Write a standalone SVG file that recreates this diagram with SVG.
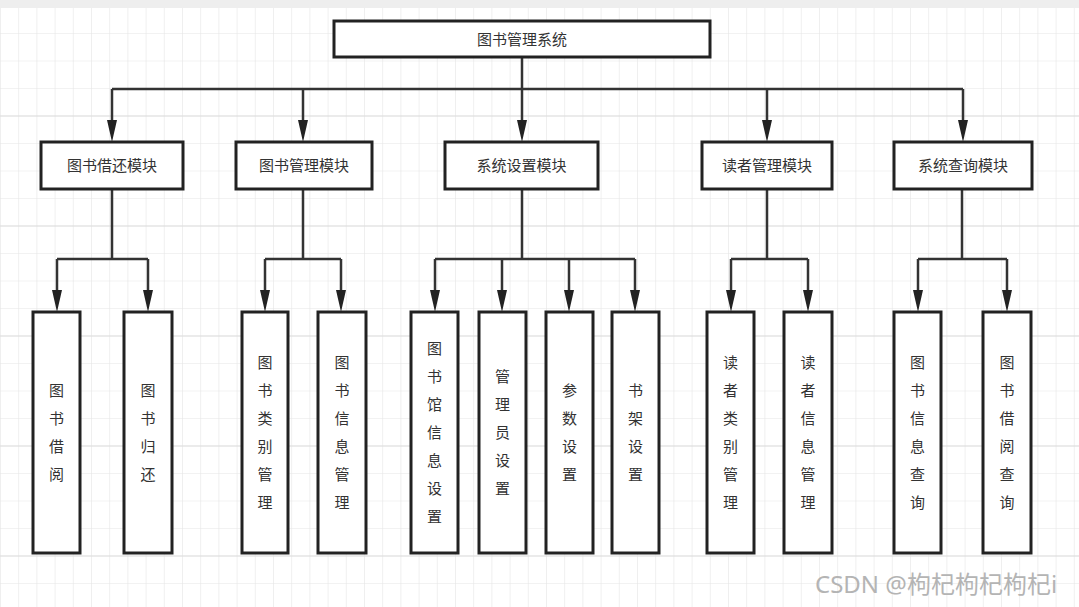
<svg xmlns="http://www.w3.org/2000/svg" width="1079" height="607" viewBox="0 0 1079 607">
<style>
.box{fill:#fff;stroke:#222;stroke-width:3}
.lbl{font-family:"Noto Sans","Noto Sans CJK SC",sans-serif;font-size:15px;fill:#333;text-anchor:middle}
.conn{fill:none;stroke:#333;stroke-width:2.5}
.wm{font-family:"Noto Sans","Noto Sans CJK SC",sans-serif;font-size:24px;fill:#b4b4b4}
</style>
<defs>
<pattern id="gminor" patternUnits="userSpaceOnUse" x="0" y="5.5" width="18.2" height="27.5">
<path d="M0,0 H18.2 M0,0 V27.5" fill="none" stroke="#e6e6e6" stroke-width="1.2"/>
</pattern>
<pattern id="gmajor" patternUnits="userSpaceOnUse" x="0" y="5.5" width="1079" height="110">
<path d="M0,0 H1079" fill="none" stroke="#dcdcdc" stroke-width="2"/>
</pattern>
<marker id="arr" markerUnits="userSpaceOnUse" viewBox="0 0 22 10" refX="10" refY="5" markerWidth="22" markerHeight="10" orient="auto">
<path d="M0,0 L22,5 L0,10 z" fill="#222"/>
</marker>
</defs>
<rect width="1079" height="607" fill="#fff"/>
<rect width="1079" height="607" fill="url(#gminor)"/>
<rect width="1079" height="607" fill="url(#gmajor)"/>
<rect width="1079" height="8" fill="#eeeeee"/>

<g id="connectors">
<path class="conn" d="M112,89 H963"/>
<path class="conn" d="M522,57 V130" marker-end="url(#arr)"/>
<path class="conn" d="M112,89 V130" marker-end="url(#arr)"/>
<path class="conn" d="M303,89 V130" marker-end="url(#arr)"/>
<path class="conn" d="M767,89 V130" marker-end="url(#arr)"/>
<path class="conn" d="M963,89 V130" marker-end="url(#arr)"/>

<path class="conn" d="M112,189 V259 M57,259 H148"/>
<path class="conn" d="M57,259 V300" marker-end="url(#arr)"/>
<path class="conn" d="M148,259 V300" marker-end="url(#arr)"/>

<path class="conn" d="M303,189 V259 M265,259 H341"/>
<path class="conn" d="M265,259 V300" marker-end="url(#arr)"/>
<path class="conn" d="M341,259 V300" marker-end="url(#arr)"/>

<path class="conn" d="M522,189 V259 M435,259 H635"/>
<path class="conn" d="M435,259 V300" marker-end="url(#arr)"/>
<path class="conn" d="M502,259 V300" marker-end="url(#arr)"/>
<path class="conn" d="M569,259 V300" marker-end="url(#arr)"/>
<path class="conn" d="M635,259 V300" marker-end="url(#arr)"/>

<path class="conn" d="M767,189 V259 M731,259 H808"/>
<path class="conn" d="M731,259 V300" marker-end="url(#arr)"/>
<path class="conn" d="M808,259 V300" marker-end="url(#arr)"/>

<path class="conn" d="M962,189 V259 M918,259 H1007"/>
<path class="conn" d="M918,259 V300" marker-end="url(#arr)"/>
<path class="conn" d="M1007,259 V300" marker-end="url(#arr)"/>
</g>

<g id="root"><rect class="box" x="334" y="21" width="376" height="36"/><text class="lbl" x="522" y="44.5">图书管理系统</text></g>

<g id="m1"><rect class="box" x="41" y="142" width="142" height="47"/><text class="lbl" x="112" y="171">图书借还模块</text></g>
<g id="m2"><rect class="box" x="236" y="142" width="136" height="47"/><text class="lbl" x="304" y="171">图书管理模块</text></g>
<g id="m3"><rect class="box" x="445" y="142" width="153" height="47"/><text class="lbl" x="521.5" y="171">系统设置模块</text></g>
<g id="m4"><rect class="box" x="702" y="142" width="130" height="47"/><text class="lbl" x="767" y="171">读者管理模块</text></g>
<g id="m5"><rect class="box" x="894" y="142" width="138" height="47"/><text class="lbl" x="963" y="171">系统查询模块</text></g>

<g id="l1"><rect class="box" x="33" y="312" width="47" height="241"/><text class="lbl"><tspan x="56.5" y="395.5">图</tspan><tspan x="56.5" y="423.5">书</tspan><tspan x="56.5" y="451.5">借</tspan><tspan x="56.5" y="479.5">阅</tspan></text></g>
<g id="l2"><rect class="box" x="124" y="312" width="48" height="241"/><text class="lbl"><tspan x="148" y="395.5">图</tspan><tspan x="148" y="423.5">书</tspan><tspan x="148" y="451.5">归</tspan><tspan x="148" y="479.5">还</tspan></text></g>
<g id="l3"><rect class="box" x="242" y="312" width="46" height="241"/><text class="lbl"><tspan x="265" y="367.5">图</tspan><tspan x="265" y="395.5">书</tspan><tspan x="265" y="423.5">类</tspan><tspan x="265" y="451.5">别</tspan><tspan x="265" y="479.5">管</tspan><tspan x="265" y="507.5">理</tspan></text></g>
<g id="l4"><rect class="box" x="318" y="312" width="48" height="241"/><text class="lbl"><tspan x="342" y="367.5">图</tspan><tspan x="342" y="395.5">书</tspan><tspan x="342" y="423.5">信</tspan><tspan x="342" y="451.5">息</tspan><tspan x="342" y="479.5">管</tspan><tspan x="342" y="507.5">理</tspan></text></g>
<g id="l5"><rect class="box" x="411" y="312" width="47" height="241"/><text class="lbl"><tspan x="434.5" y="353.5">图</tspan><tspan x="434.5" y="381.5">书</tspan><tspan x="434.5" y="409.5">馆</tspan><tspan x="434.5" y="437.5">信</tspan><tspan x="434.5" y="465.5">息</tspan><tspan x="434.5" y="493.5">设</tspan><tspan x="434.5" y="521.5">置</tspan></text></g>
<g id="l6"><rect class="box" x="479" y="312" width="47" height="241"/><text class="lbl"><tspan x="502.5" y="381.5">管</tspan><tspan x="502.5" y="409.5">理</tspan><tspan x="502.5" y="437.5">员</tspan><tspan x="502.5" y="465.5">设</tspan><tspan x="502.5" y="493.5">置</tspan></text></g>
<g id="l7"><rect class="box" x="546" y="312" width="47" height="241"/><text class="lbl"><tspan x="569.5" y="395.5">参</tspan><tspan x="569.5" y="423.5">数</tspan><tspan x="569.5" y="451.5">设</tspan><tspan x="569.5" y="479.5">置</tspan></text></g>
<g id="l8"><rect class="box" x="612" y="312" width="47" height="241"/><text class="lbl"><tspan x="635.5" y="395.5">书</tspan><tspan x="635.5" y="423.5">架</tspan><tspan x="635.5" y="451.5">设</tspan><tspan x="635.5" y="479.5">置</tspan></text></g>
<g id="l9"><rect class="box" x="707" y="312" width="47" height="241"/><text class="lbl"><tspan x="730.5" y="367.5">读</tspan><tspan x="730.5" y="395.5">者</tspan><tspan x="730.5" y="423.5">类</tspan><tspan x="730.5" y="451.5">别</tspan><tspan x="730.5" y="479.5">管</tspan><tspan x="730.5" y="507.5">理</tspan></text></g>
<g id="l10"><rect class="box" x="784" y="312" width="48" height="241"/><text class="lbl"><tspan x="808" y="367.5">读</tspan><tspan x="808" y="395.5">者</tspan><tspan x="808" y="423.5">信</tspan><tspan x="808" y="451.5">息</tspan><tspan x="808" y="479.5">管</tspan><tspan x="808" y="507.5">理</tspan></text></g>
<g id="l11"><rect class="box" x="894" y="312" width="47" height="241"/><text class="lbl"><tspan x="917.5" y="367.5">图</tspan><tspan x="917.5" y="395.5">书</tspan><tspan x="917.5" y="423.5">信</tspan><tspan x="917.5" y="451.5">息</tspan><tspan x="917.5" y="479.5">查</tspan><tspan x="917.5" y="507.5">询</tspan></text></g>
<g id="l12"><rect class="box" x="983" y="312" width="48" height="241"/><text class="lbl"><tspan x="1007" y="367.5">图</tspan><tspan x="1007" y="395.5">书</tspan><tspan x="1007" y="423.5">借</tspan><tspan x="1007" y="451.5">阅</tspan><tspan x="1007" y="479.5">查</tspan><tspan x="1007" y="507.5">询</tspan></text></g>

<text class="wm" x="815" y="593">CSDN @枸杞枸杞枸杞i</text>
</svg>
